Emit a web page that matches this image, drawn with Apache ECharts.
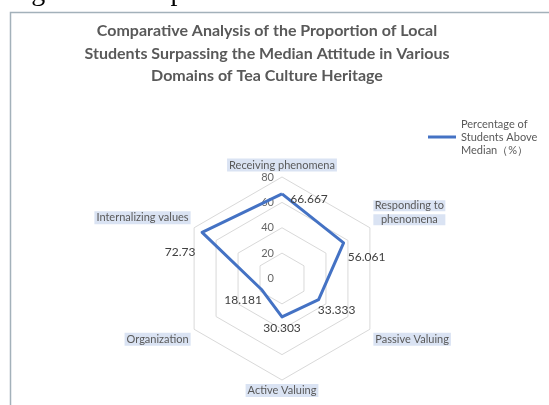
<!DOCTYPE html>
<html>
<head>
<meta charset="utf-8">
<script src="https://cdn.jsdelivr.net/npm/echarts@6/dist/echarts.min.js"></script>
<style>
html,body{margin:0;padding:0;background:#fff;}
#c{width:549px;height:405px;}
</style>
</head>
<body>
<div id="c"></div>
<script>
// ---- data ----
const titleText = 'Comparative Analysis of the Proportion of Local\nStudents Surpassing the Median Attitude in Various\nDomains of Tea Culture Heritage';
const seriesName = 'Percentage of\nStudents Above\nMedian（%）';
const categories = ['Receiving phenomena', 'Responding to phenomena', 'Passive Valuing', 'Active Valuing', 'Organization', 'Internalizing values'];
const values = [66.667, 56.061, 33.333, 30.303, 18.181, 72.73];
const tickLabels = [0, 20, 40, 60, 80];

// ---- styling helpers (not data) ----
const labelOffsets = [[27, 5], [23, 14], [18, 10], [0, 11], [-19, 10], [-22, 20]];
const ccwOrder = [0, 5, 4, 3, 2, 1]; // ECharts lays indicators counter-clockwise

const rich = {};
labelOffsets.forEach(function (o, i) {
  const dx = o[0], dy = o[1];
  rich['p' + i] = {
    fontFamily: 'Lato', fontSize: 12, color: '#404040',
    padding: [Math.max(0, 2 * dy), Math.max(0, -2 * dx), Math.max(0, -2 * dy), Math.max(0, 2 * dx)]
  };
});

const nameBg = '#dae3f3';
const nameRich = {
  n: { backgroundColor: nameBg, padding: [1, 2], fontFamily: 'Lato', fontSize: 11, color: '#595959', lineHeight: 13 },
  w: { backgroundColor: nameBg, width: 72, align: 'center', fontFamily: 'Lato', fontSize: 11, color: '#595959', lineHeight: 14 },
  s: { fontSize: 1, lineHeight: 16 },
  s2: { fontSize: 1, lineHeight: 26 }
};
function nameFormatter(name) {
  const i = categories.indexOf(name);
  if (i === 1) return '{w|Responding to}\n{w|phenomena}\n{s2| }';
  if (i === 5) return '{n|' + name + '}\n{s| }';
  if (i === 2 || i === 4) return '{s| }\n{n|' + name + '}';
  return '{n|' + name + '}';
}

const maxV = tickLabels[tickLabels.length - 1];
const minV = tickLabels[0];
const indicator = ccwOrder.map(function (i) {
  const ind = { name: categories[i], min: minV, max: maxV };
  if (i === 0) ind.axisLabel = { show: true };
  return ind;
});

const chart = echarts.init(document.getElementById('c'), null, { renderer: 'canvas' });
chart.setOption({
  animation: false,
  backgroundColor: '#ffffff',
  title: {
    text: titleText,
    left: 262,
    top: 15,
    textAlign: 'center',
    textStyle: { fontFamily: 'Lato', fontWeight: 'bold', fontSize: 16, color: '#595959', lineHeight: 22.5 }
  },
  legend: {
    data: [seriesName],
    left: 428,
    top: 104.5,
    padding: 0,
    icon: 'rect',
    itemWidth: 28,
    itemHeight: 3,
    textStyle: { fontFamily: 'Lato', fontSize: 11, color: '#595959', lineHeight: 13, padding: [26, 0, 0, 0] }
  },
  radar: {
    center: [282, 278.5],
    radius: 101.5,
    startAngle: 90,
    splitNumber: tickLabels.length - 1,
    shape: 'polygon',
    indicator: indicator,
    nameGap: 4,
    axisName: { formatter: nameFormatter, rich: nameRich, color: '#595959', fontFamily: 'Lato', fontSize: 11 },
    axisLine: { show: false },
    axisTick: { show: false },
    axisLabel: { show: false, fontFamily: 'Lato', fontSize: 11, color: '#666666', margin: 8 },
    splitLine: { lineStyle: { color: '#d9d9d9', width: 1 } },
    splitArea: { show: false }
  },
  series: [{
    type: 'radar',
    name: seriesName,
    symbol: 'circle',
    symbolSize: 1,
    itemStyle: { color: '#4472C4' },
    lineStyle: { color: '#4472C4', width: 3 },
    label: {
      show: true,
      position: 'inside',
      formatter: function (p) {
        const v = Array.isArray(p.value) ? p.value[0] : p.value;
        const i = values.indexOf(v);
        return '{p' + i + '|' + v + '}';
      },
      rich: rich
    },
    data: [{ value: ccwOrder.map(function (i) { return values[i]; }), name: seriesName }]
  }],
  graphic: [
    {
      type: 'rect', left: 8, top: 10, z: -1,
      shape: { width: 560, height: 420 },
      style: { fill: 'none', stroke: '#a3b1ba', lineWidth: 1.5 }
    },
    {
      type: 'text', x: 8, y: -7, z: 5,
      style: { text: 'Figure 5. Comparative', font: '28px "Liberation Serif"', fill: '#000', verticalAlign: 'middle' }
    }
  ]
});
</script>
</body>
</html>
